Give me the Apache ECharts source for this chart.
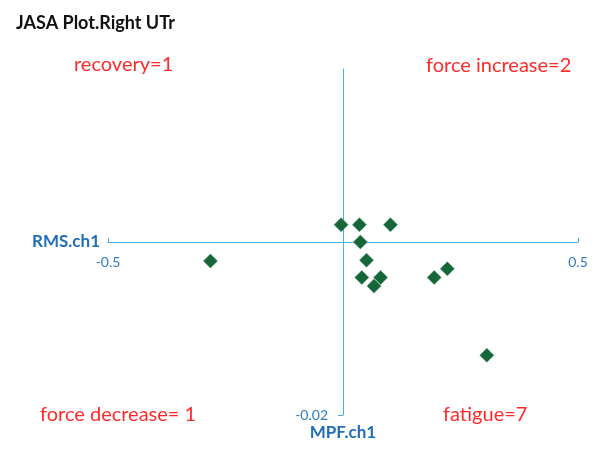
<!DOCTYPE html>
<html>
<head>
<meta charset="utf-8">
<script src="https://cdn.jsdelivr.net/npm/echarts@6/dist/echarts.min.js"></script>
<style>
  html, body { margin: 0; padding: 0; background: #fff; }
  #main { width: 599px; height: 462px; }
</style>
</head>
<body>
<div id="main"></div>
<script>
// MPF.ch1 (x) vs RMS.ch1 (y)
const xValues = [-0.004, 0.035, 0.101, 0.037, -0.282, 0.050, 0.040, 0.080, 0.066, 0.194, 0.222, 0.306]
const yValues = [0.002, 0.002, 0.002, 0, -0.0022, -0.0021, -0.0041, -0.0041, -0.0051, -0.0041, -0.0031, -0.0131]
const xTicks = [-0.5, 0.5]
const yTicks = [-0.02]
const quadrantLabels = ['recovery=1', 'force increase=2', 'force decrease= 1', 'fatigue=7']

const points = xValues.map((x, i) => [x, yValues[i]])
const blueLine = '#45b1e4'
const blueText = '#2e7cc1'
const red = '#ff2a2a'
const font = 'Lato, "Open Sans", sans-serif'

// axes cross in the middle of the grid (x=0, y=0), moved there by offset
const chart = echarts.init(document.getElementById('main'))
chart.setOption({
  animation: false,
  title: {
    text: 'JASA Plot.Right UTr',
    left: 11,
    top: 9,
    textStyle: { fontFamily: font, fontSize: 18, fontWeight: 'bold', color: '#111' }
  },
  grid: { left: 108, right: 21, top: 69, bottom: 47 },
  xAxis: {
    type: 'value',
    min: -0.5,
    max: 0.5,
    offset: -173,
    name: 'RMS.ch1',
    nameLocation: 'start',
    nameGap: 8,
    nameTextStyle: { fontFamily: font, fontSize: 17, fontWeight: 'bold', color: '#1f6fb8' },
    axisLine: { onZero: false, lineStyle: { color: blueLine, width: 1 } },
    axisTick: { show: true, inside: true, length: 4, customValues: xTicks, lineStyle: { color: blueLine } },
    axisLabel: { customValues: xTicks, margin: 13, fontFamily: font, fontSize: 14, color: blueText },
    splitLine: { show: false }
  },
  yAxis: {
    type: 'value',
    min: -0.02,
    max: 0.02,
    offset: -235,
    name: 'MPF.ch1',
    nameLocation: 'start',
    nameGap: 9,
    nameTextStyle: { fontFamily: font, fontSize: 17, fontWeight: 'bold', color: '#1f6fb8', verticalAlign: 'top' },
    axisLine: { onZero: false, lineStyle: { color: blueLine, width: 1 } },
    axisTick: { show: true, length: 5, customValues: yTicks, lineStyle: { color: blueLine } },
    axisLabel: { customValues: yTicks, margin: 15, fontFamily: font, fontSize: 14, color: blueText },
    splitLine: { show: false }
  },
  graphic: [
    { type: 'text', left: 74, top: 55, style: { text: quadrantLabels[0], font: '20px ' + font, fill: red } },
    { type: 'text', left: 426, top: 56, style: { text: quadrantLabels[1], font: '20px ' + font, fill: red } },
    { type: 'text', left: 40, top: 405, style: { text: quadrantLabels[2], font: '20px ' + font, fill: red } },
    { type: 'text', left: 443, top: 405, style: { text: quadrantLabels[3], font: '20px ' + font, fill: red } }
  ],
  series: [
    {
      type: 'scatter',
      symbol: 'diamond',
      symbolSize: 14,
      data: points,
      itemStyle: { color: '#17663a', borderColor: '#2f8a5a', borderWidth: 0.5, opacity: 1 }
    }
  ]
})
</script>
</body>
</html>
